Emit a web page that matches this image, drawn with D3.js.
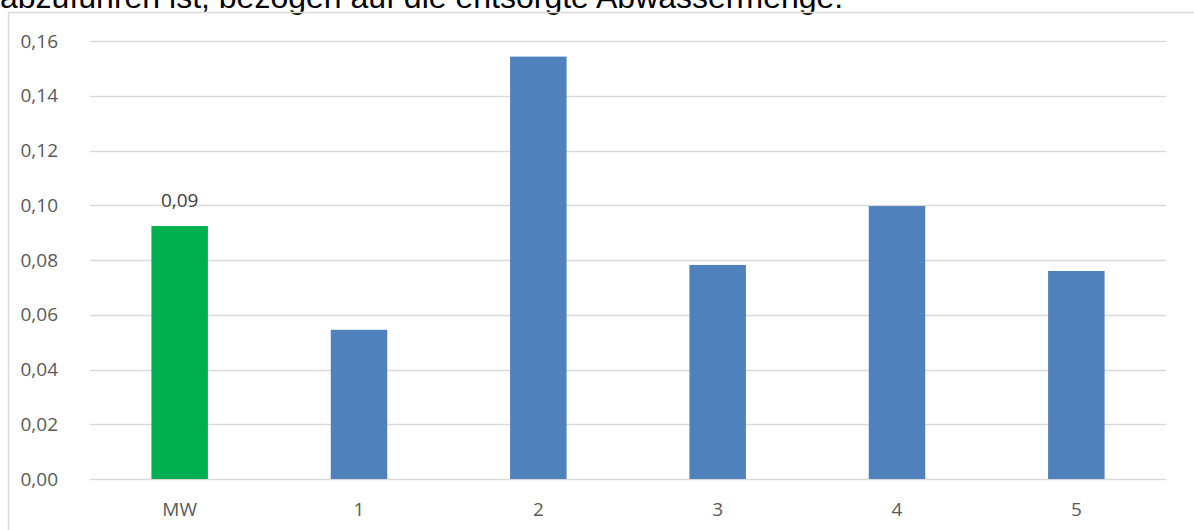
<!DOCTYPE html>
<html lang="de">
<head>
  <meta charset="UTF-8">
  <title>Abwassermenge</title>
  <style>
    body { margin: 0; background: #fff; }
    #chart { display: block; }
    .tick-label { font-family: "Open Sans", "Liberation Sans", sans-serif; font-size: 19px; fill: #595959; }
  </style>
</head>
<body>
  <svg id="chart" width="1194" height="530"></svg>
  <script src="https://d3js.org/d3.v7.min.js"></script>
  <script>
    // values
    const categories = ["MW", "1", "2", "3", "4", "5"];
    const values = [0.0924, 0.0545, 0.1543, 0.0782, 0.0997, 0.076];
    const yTicks = [0, 0.02, 0.04, 0.06, 0.08, 0.10, 0.12, 0.14, 0.16];
    const barColors = ["#00B050", "#4F81BD", "#4F81BD", "#4F81BD", "#4F81BD", "#4F81BD"];
    const labelText = "0,09";

    const svg = d3.select("#chart");
    const plot = { left: 90, right: 1166, top: 41, bottom: 479 };

    // cut-off line of text above the chart (cropped in the original too)
    svg.append("text")
      .attr("x", 0)
      .attr("y", 8)
      .style("font-family", "'Liberation Sans', Arial, sans-serif")
      .style("font-size", "32px")
      .style("fill", "#000")
      .text("abzuführen ist, bezogen auf die entsorgte Abwassermenge.");

    // chart frame (runs off the right and bottom edges)
    svg.append("rect")
      .attr("x", 8.5)
      .attr("y", 12.5)
      .attr("width", 1300)
      .attr("height", 600)
      .attr("fill", "none")
      .attr("stroke", "#d9d9d9")
      .attr("stroke-width", 1.5);

    const x = d3.scaleBand()
      .domain(categories)
      .range([plot.left, plot.right])
      .paddingInner(0.685)
      .paddingOuter(0.3425);

    const y = d3.scaleLinear()
      .domain([0, 0.16])
      .range([plot.bottom, plot.top]);

    const fmt = d => d3.format(".2f")(d).replace(".", ",");

    // gridlines
    svg.append("g")
      .selectAll("line")
      .data(yTicks)
      .enter().append("line")
      .attr("x1", plot.left)
      .attr("x2", plot.right)
      .attr("y1", d => Math.round(y(d)) + 0.5)
      .attr("y2", d => Math.round(y(d)) + 0.5)
      .attr("stroke", "#d9d9d9")
      .attr("stroke-width", 1.5);

    // y tick labels
    svg.append("g")
      .selectAll("text")
      .data(yTicks)
      .enter().append("text")
      .attr("class", "tick-label")
      .attr("x", 58)
      .attr("y", d => y(d))
      .attr("dy", "0.35em")
      .attr("text-anchor", "end")
      .text(fmt);

    // bars
    svg.append("g")
      .selectAll("rect")
      .data(values)
      .enter().append("rect")
      .attr("x", (d, i) => x(categories[i]))
      .attr("y", d => y(d))
      .attr("width", x.bandwidth())
      .attr("height", d => plot.bottom - y(d))
      .attr("fill", (d, i) => barColors[i]);

    // category labels
    svg.append("g")
      .selectAll("text")
      .data(categories)
      .enter().append("text")
      .attr("class", "tick-label")
      .attr("x", d => x(d) + x.bandwidth() / 2)
      .attr("y", 509)
      .attr("dy", "0.35em")
      .attr("text-anchor", "middle")
      .text(d => d);

    // data label on the mean bar
    svg.append("text")
      .attr("class", "tick-label")
      .attr("x", x("MW") + x.bandwidth() / 2)
      .attr("y", y(values[0]) - 26)
      .attr("dy", "0.35em")
      .attr("text-anchor", "middle")
      .style("fill", "#404040")
      .text(labelText);
  </script>
</body>
</html>
